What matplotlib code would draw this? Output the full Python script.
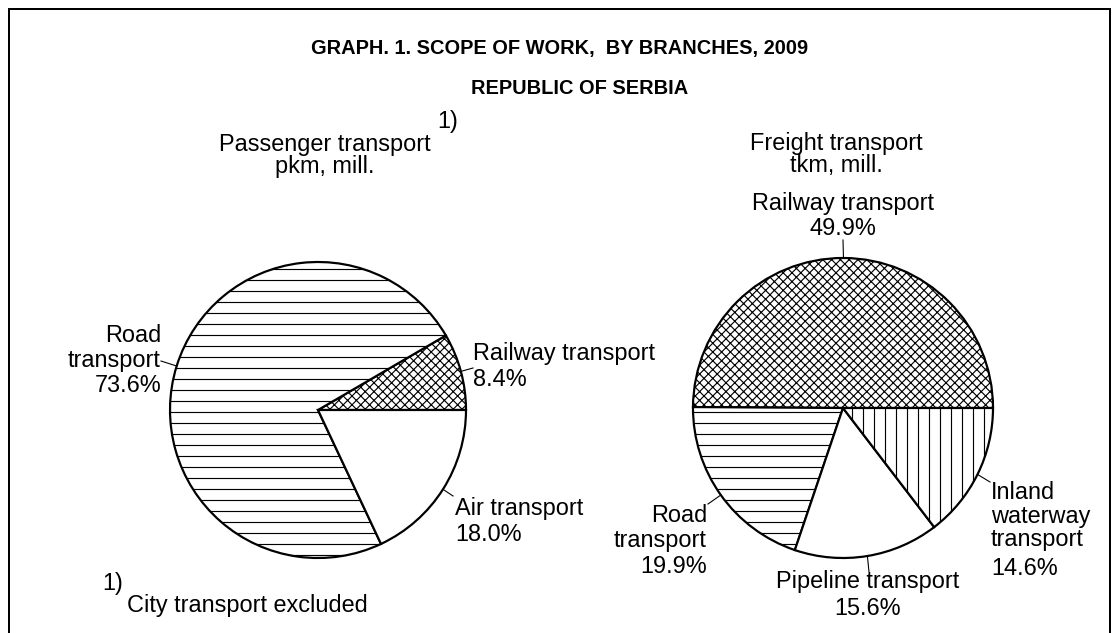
import matplotlib
matplotlib.use("Agg")
import matplotlib.pyplot as plt
import numpy as np

# ---------------- data ----------------
passenger_categories = ["Railway transport", "Road\ntransport", "Air transport"]
passenger_values = [8.4, 73.6, 18.0]
passenger_hatches = ["xxxxx", "--", ""]

freight_categories = ["Railway transport", "Road\ntransport", "Pipeline transport", "Inland\nwaterway\ntransport"]
freight_values = [49.9, 19.9, 15.6, 14.6]
freight_hatches = ["xxxxx", "--", "", "||"]

title_text = "GRAPH. 1. SCOPE OF WORK,  BY BRANCHES, 2009"
subtitle_text = "REPUBLIC OF SERBIA"
passenger_title = ["Passenger transport", "pkm, mill."]
freight_title = ["Freight transport", "tkm, mill."]
footnote_mark = "1)"
footnote_text = "City transport excluded"

# ---------------- setup ----------------
W, H, DPI = 1119, 633, 132


def pt(px):
    return px * 72.0 / DPI


def Y(p):
    return H - p


plt.rcParams['font.family'] = ['Liberation Sans', 'DejaVu Sans']
plt.rcParams['hatch.linewidth'] = pt(1.15)
plt.rcParams['hatch.color'] = 'black'

fig = plt.figure(figsize=(W / DPI, H / DPI), dpi=DPI)
ax = fig.add_axes([0, 0, 1, 1])

FS = pt(23.5)
TFS = pt(20)

wp = dict(edgecolor='black', linewidth=pt(2.2))
w1, _ = ax.pie(passenger_values, center=(318, Y(410)), radius=148, startangle=0,
               counterclock=True, colors=['white'] * len(passenger_values),
               hatch=passenger_hatches, wedgeprops=wp, frame=False)
w2, _ = ax.pie(freight_values, center=(843, Y(408)), radius=150, startangle=0,
               counterclock=True, colors=['white'] * len(freight_values),
               hatch=freight_hatches, wedgeprops=wp, frame=False)

ax.set_xlim(0, W)
ax.set_ylim(0, H)
ax.set_aspect('equal')
ax.axis('off')

# border
ax.plot([9, 9, 1110, 1110], [0, Y(9), Y(9), 0], color='black', lw=pt(2), solid_joinstyle='miter')


def txt(x, yb, s, ha='left', size=FS, weight='normal'):
    ax.text(x, Y(yb), s, ha=ha, va='baseline', fontsize=size, fontweight=weight, color='black')


# titles
txt(560, 54, title_text, ha='center', size=TFS, weight='bold')
txt(580, 94, subtitle_text, ha='center', size=TFS, weight='bold')

txt(325, 151, passenger_title[0], ha='center')
txt(325, 173, passenger_title[1], ha='center')
txt(437, 128, footnote_mark, ha='left')
txt(836, 150, freight_title[0], ha='center')
txt(836, 172, freight_title[1], ha='center')

txt(102, 590, footnote_mark, ha='left')
txt(127, 612, footnote_text, ha='left')


def leader(wedge, end):
    th = np.deg2rad((wedge.theta1 + wedge.theta2) / 2)
    cx, cy = wedge.center
    r = wedge.r
    sx, sy = cx + r * np.cos(th), cy + r * np.sin(th)
    ax.plot([sx, end[0]], [sy, Y(end[1])], color='black', lw=pt(1.1))


def label(lines, x, baselines, ha):
    for s, b in zip(lines, baselines):
        txt(x, b, s, ha=ha)


# passenger labels
p_layout = [
    dict(x=473, b=[360, 386], ha='left', end=(473, 368)),
    dict(x=161, b=[342, 367, 392], ha='right', end=(161, 361)),
    dict(x=455, b=[515, 541], ha='left', end=(453, 496)),
]
for w, cat, v, lay in zip(w1, passenger_categories, passenger_values, p_layout):
    leader(w, lay['end'])
    label(cat.split('\n') + [f"{v:.1f}%"], lay['x'], lay['b'], lay['ha'])

# freight labels
f_layout = [
    dict(x=843, b=[210, 235], ha='center', end=(843, 240)),
    dict(x=707, b=[522, 547, 573], ha='right', end=(708, 504)),
    dict(x=868, b=[588, 615], ha='center', end=(869, 572)),
    dict(x=991, b=[499, 523, 546, 575], ha='left', end=(990, 482)),
]
for w, cat, v, lay in zip(w2, freight_categories, freight_values, f_layout):
    leader(w, lay['end'])
    label(cat.split('\n') + [f"{v:.1f}%"], lay['x'], lay['b'], lay['ha'])

fig.savefig("out.png", dpi=DPI, facecolor='white')
